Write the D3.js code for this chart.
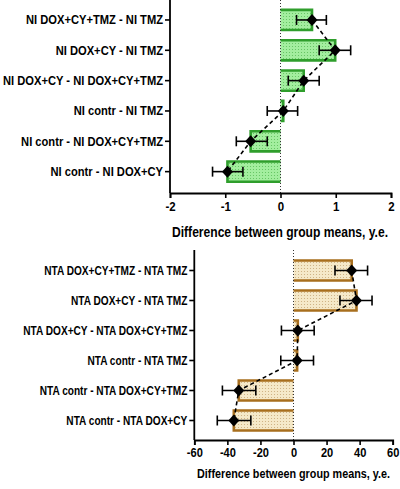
<!DOCTYPE html>
<html><head><meta charset="utf-8">
<script src="https://cdn.jsdelivr.net/npm/d3@7/dist/d3.min.js"></script>
<style>
html,body{margin:0;padding:0;background:#fff;}
svg{display:block;}
text{font-family:"Liberation Sans","Arial",sans-serif;font-weight:bold;fill:#000;}
</style></head>
<body>
<svg id="chart" width="400" height="489"></svg>
<script>
// ---- data ----
const niLabels = ["NI DOX+CY+TMZ - NI TMZ","NI DOX+CY - NI TMZ","NI DOX+CY - NI DOX+CY+TMZ","NI contr - NI TMZ","NI contr - NI DOX+CY+TMZ","NI contr - NI DOX+CY"];
const niDiff = [0.57, 0.99, 0.42, 0.05, -0.54, -0.96];
const niLow  = [0.29, 0.70, 0.14, -0.24, -0.80, -1.23];
const niHigh = [0.83, 1.27, 0.70, 0.31, -0.24, -0.68];
const niTicks = [-2, -1, 0, 1, 2];

const ntaLabels = ["NTA DOX+CY+TMZ - NTA TMZ","NTA DOX+CY - NTA TMZ","NTA DOX+CY - NTA DOX+CY+TMZ","NTA contr - NTA TMZ","NTA contr - NTA DOX+CY+TMZ","NTA contr - NTA DOX+CY"];
const ntaDiff = [35.2, 38.1, 2.6, 2.2, -33.1, -36.1];
const ntaLow  = [25.1, 28.1, -7.3, -7.7, -43.0, -46.1];
const ntaHigh = [44.8, 47.5, 12.5, 12.1, -22.8, -25.8];
const ntaTicks = [-60, -40, -20, 0, 20, 40, 60];

const axisTitle = "Difference between group means, y.e.";

const svg = d3.select("#chart");
const defs = svg.append("defs");
function dotPattern(id, bg, dot){
  const p = defs.append("pattern").attr("id", id).attr("patternUnits","userSpaceOnUse")
    .attr("width", 3).attr("height", 3);
  p.append("rect").attr("width",3).attr("height",3).attr("fill",bg);
  p.append("circle").attr("cx",1.5).attr("cy",1.5).attr("r",0.55).attr("fill",dot);
}
dotPattern("pGreen", "#a3ee9f", "#5cbf5a");
dotPattern("pBeige", "#f5e9c9", "#c9ab7a");

// condense a selection of texts by a common factor (emulates a narrow bold face)
function condense(sel, factor){
  sel.each(function(){
    const w = this.getComputedTextLength();
    d3.select(this).attr("textLength", w*factor).attr("lengthAdjust","spacingAndGlyphs");
  });
}

function panel(cfg){
  const g = svg.append("g");
  const x = d3.scaleLinear().domain(cfg.domain).range(cfg.xRange);
  const y = d3.scaleBand().domain(cfg.labels).range(cfg.yRange).paddingInner(0.27).paddingOuter(0.135);
  const bw = y.bandwidth();
  const rows = cfg.labels.map((l,i)=>({l, v:cfg.diff[i], lo:cfg.low[i], hi:cfg.high[i]}));

  // bars (3-sided outline)
  g.selectAll(".bar").data(rows).join("path")
    .attr("d", d => {
      const x0 = x(0), x1 = x(d.v), y0 = y(d.l)+1, y1 = y(d.l)+bw-1;
      return `M${x0},${y0}H${x1}V${y1}H${x0}`;
    })
    .attr("fill", `url(#${cfg.pattern})`).attr("stroke", cfg.stroke).attr("stroke-width", 2.6);

  // zero line
  g.append("line").attr("x1", x(0)).attr("x2", x(0)).attr("y1", cfg.yTop).attr("y2", cfg.axisY)
    .attr("stroke","#333").attr("stroke-width",1).attr("stroke-dasharray","1,2");

  // dashed connecting line
  g.append("path").datum(rows)
    .attr("d", d3.line().x(d=>x(d.v)).y(d=>y(d.l)+bw/2))
    .attr("fill","none").attr("stroke","#000").attr("stroke-width",1.6).attr("stroke-dasharray","4,3");

  // error bars
  const eb = g.selectAll(".eb").data(rows).join("g");
  eb.append("line").attr("x1", d=>x(d.lo)).attr("x2", d=>x(d.hi))
    .attr("y1", d=>y(d.l)+bw/2).attr("y2", d=>y(d.l)+bw/2).attr("stroke","#000").attr("stroke-width",1.6);
  eb.append("line").attr("x1", d=>x(d.lo)).attr("x2", d=>x(d.lo))
    .attr("y1", d=>y(d.l)+bw/2-5).attr("y2", d=>y(d.l)+bw/2+5).attr("stroke","#000").attr("stroke-width",1.6);
  eb.append("line").attr("x1", d=>x(d.hi)).attr("x2", d=>x(d.hi))
    .attr("y1", d=>y(d.l)+bw/2-5).attr("y2", d=>y(d.l)+bw/2+5).attr("stroke","#000").attr("stroke-width",1.6);

  // diamonds
  g.selectAll(".pt").data(rows).join("path")
    .attr("transform", d=>`translate(${x(d.v)},${y(d.l)+bw/2})`)
    .attr("d", "M0,-6L5.5,0L0,6L-5.5,0Z").attr("fill","#000");

  // x axis
  const xa = g.append("g").attr("transform",`translate(0,${cfg.axisY})`)
    .call(d3.axisBottom(x).tickValues(cfg.ticks).tickFormat(d=>String(d)).tickSize(5).tickPadding(3));
  xa.select(".domain").attr("stroke","#000").attr("stroke-width",1.8);
  xa.selectAll(".tick line").attr("stroke","#000").attr("stroke-width",1.6);
  xa.selectAll("text").attr("font-size",cfg.tickFont).attr("font-family",null);
  condense(xa.selectAll("text"), 0.85);

  // y axis
  const ya = g.append("g").attr("transform",`translate(${cfg.xRange[0]},0)`)
    .call(d3.axisLeft(y).tickSize(5).tickPadding(2).tickSizeOuter(0));
  ya.select(".domain").attr("d", `M0,${cfg.yTop}V${cfg.axisY}`).attr("stroke","#000").attr("stroke-width",1.8);
  ya.selectAll(".tick line").attr("stroke","#000").attr("stroke-width",1.6);
  const lt = ya.selectAll("text").attr("font-size",cfg.labelFont).attr("font-family",null);
  let maxW = 0;
  lt.each(function(){ maxW = Math.max(maxW, this.getComputedTextLength()); });
  condense(lt, cfg.labelWidth / maxW);

  // title
  const t = g.append("text").attr("x", cfg.titleX).attr("y", cfg.titleY).attr("text-anchor","middle")
    .attr("font-size",cfg.titleFont).text(axisTitle);
  const tw = t.node().getComputedTextLength();
  t.attr("textLength", cfg.titleWidth).attr("lengthAdjust","spacingAndGlyphs");
}

panel({labels:niLabels, diff:niDiff, low:niLow, high:niHigh, ticks:niTicks, domain:[-2,2],
  xRange:[170,391], yRange:[4.8,186.8], yTop:0, axisY:193, pattern:"pGreen", stroke:"#2f9e2c",
  titleX:280, titleY:237, labelFont:13.5, labelWidth:160, tickFont:13.5, titleFont:14, titleWidth:216});
panel({labels:ntaLabels, diff:ntaDiff, low:ntaLow, high:ntaHigh, ticks:ntaTicks, domain:[-60,60],
  xRange:[194.3,392.7], yRange:[255.5,435.5], yTop:250, axisY:440, pattern:"pBeige", stroke:"#a86f1e",
  titleX:293.5, titleY:478, labelFont:13, labelWidth:164, tickFont:13, titleFont:13, titleWidth:193});
</script>
</body></html>
